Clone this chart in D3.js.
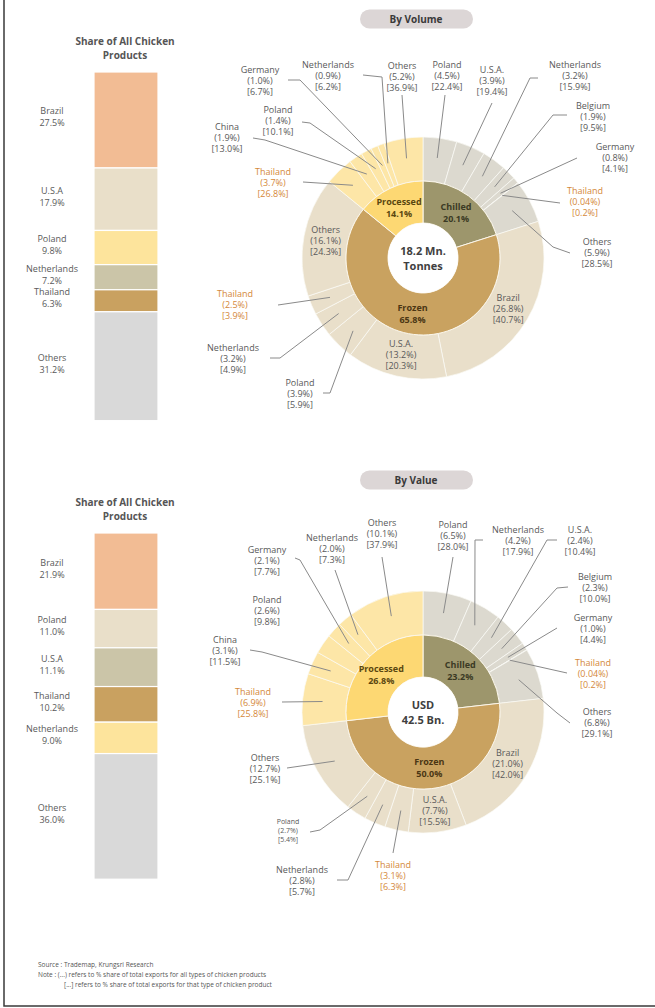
<!DOCTYPE html>
<html><head><meta charset="utf-8">
<script src="https://cdn.jsdelivr.net/npm/d3@7"></script>
<style>body{margin:0;background:#fff}svg{display:block;font-family:'Open Sans',sans-serif}</style>
</head><body><svg id="c" width="655" height="1008"></svg>
<script>
// ---------- DATA ----------
const barCategoriesVolume = ["Brazil","U.S.A","Poland","Netherlands","Thailand","Others"];
const barSharesVolume = [27.5,17.9,9.8,7.2,6.3,31.2];
const barCategoriesValue = ["Brazil","Poland","U.S.A","Thailand","Netherlands","Others"];
const barSharesValue = [21.9,11.0,11.1,10.2,9.0,36.0];

const productTypes = ["Chilled","Frozen","Processed"];
const volumeTypeShares = [20.1,65.8,14.1];
const valueTypeShares = [23.2,50.0,26.8];

const volChilledCountries = ["Poland","U.S.A.","Netherlands","Belgium","Germany","Thailand","Others"];
const volChilledTotal = [4.5,3.9,3.2,1.9,0.8,0.04,5.9];
const volChilledType = [22.4,19.4,15.9,9.5,4.1,0.2,28.5];
const volFrozenCountries = ["Brazil","U.S.A.","Poland","Netherlands","Thailand","Others"];
const volFrozenTotal = [26.8,13.2,3.9,3.2,2.5,16.1];
const volFrozenType = [40.7,20.3,5.9,4.9,3.9,24.3];
const volProcessedCountries = ["Thailand","China","Poland","Germany","Netherlands","Others"];
const volProcessedTotal = [3.7,1.9,1.4,1.0,0.9,5.2];
const volProcessedType = [26.8,13.0,10.1,6.7,6.2,36.9];

const valChilledCountries = ["Poland","Netherlands","U.S.A.","Belgium","Germany","Thailand","Others"];
const valChilledTotal = [6.5,4.2,2.4,2.3,1.0,0.04,6.8];
const valChilledType = [28.0,17.9,10.4,10.0,4.4,0.2,29.1];
const valFrozenCountries = ["Brazil","U.S.A.","Thailand","Netherlands","Poland","Others"];
const valFrozenTotal = [21.0,7.7,3.1,2.8,2.7,12.7];
const valFrozenType = [42.0,15.5,6.3,5.7,5.4,25.1];
const valProcessedCountries = ["Thailand","China","Poland","Germany","Netherlands","Others"];
const valProcessedTotal = [6.9,3.1,2.6,2.1,2.0,10.1];
const valProcessedType = [25.8,11.5,9.8,7.7,7.3,37.9];

// ---------- LAYOUT (annotation placement only) ----------
const volumeLabelLayout = {
  "Processed|Thailand":[273,182,[[303,182]]],
  "Processed|China":[227,137,[[253,138],[265,140]]],
  "Processed|Poland":[278,120,[[302,122],[310,123]]],
  "Processed|Germany":[260,80,[[288,80],[300,80]]],
  "Processed|Netherlands":[328,75,[[363,75],[382,77]]],
  "Processed|Others":[402,76,[[402,95]]],
  "Chilled|Poland":[447,75,[[445,95]]],
  "Chilled|U.S.A.":[492,80,[[492,103]]],
  "Chilled|Netherlands":[575,75,[[538,78],[530,78]]],
  "Chilled|Belgium":[593,116,[[567,115],[553,115]]],
  "Chilled|Germany":[615,157,[[577,158]]],
  "Chilled|Thailand":[585,201,[[560,203]]],
  "Chilled|Others":[597,252,[[570,253],[553,247]]],
  "Frozen|Brazil":"in","Frozen|U.S.A.":"in","Frozen|Others":"in",
  "Frozen|Thailand":[235,304,[[278,305]]],
  "Frozen|Netherlands":[233,358,[[270,358],[280,358]]],
  "Frozen|Poland":[300,393,[[323,393],[330,393]]]
};
const valueLabelLayout = {
  "Processed|Others":[382,533,[[382,557]]],
  "Processed|Netherlands":[332,548,[[335,570]]],
  "Processed|Germany":[267,560,[[295,558],[300,560]]],
  "Processed|Poland":[267,610,null],
  "Processed|China":[225,650,[[250,650],[262,652]]],
  "Processed|Thailand":[253,702,[[282,702]]],
  "Chilled|Poland":[453,535,[[453,557]]],
  "Chilled|Netherlands":[518,540,[[483,540],[475,540]]],
  "Chilled|U.S.A.":[580,540,[[557,540],[547,540]]],
  "Chilled|Belgium":[595,587,[[568,587],[557,588]]],
  "Chilled|Germany":[593,628,[[557,628]]],
  "Chilled|Thailand":[593,673,[[567,673]]],
  "Chilled|Others":[597,722,[[570,723],[557,713]]],
  "Frozen|Brazil":"in","Frozen|U.S.A.":"in",
  "Frozen|Others":[265,768,[[287,768]]],
  "Frozen|Poland":[288,830,[[310,832],[320,830]],7],
  "Frozen|Netherlands":[302,880,[[337,880],[348,880]]],
  "Frozen|Thailand":[393,875,[[393,853]]]
};

// ---------- DRAW ----------
const svg = d3.select("#c");
const GRAY = "#595959", ORANGE = "#d4883a";

svg.append("path").attr("d","M4,0V1006H655").attr("fill","none")
  .attr("stroke","#3a3a3a").attr("stroke-width",1.5);

function drawBar(top, cats, shares, colors){
  const g = svg.append("g");
  ["Share of All Chicken","Products"].forEach((t,i)=>{
    g.append("text").attr("x",125).attr("y",top-31+i*14).attr("text-anchor","middle")
      .attr("dominant-baseline","central").attr("font-size",10).attr("font-weight","bold")
      .attr("fill","#555").text(t);
  });
  const y = d3.scaleLinear().domain([0,100]).range([0,349]);
  let cum = 0;
  cats.forEach((c,i)=>{
    const y0 = top + y(cum), h = y(shares[i]);
    cum += shares[i];
    g.append("rect").attr("x",94).attr("y",y0).attr("width",64).attr("height",h)
      .attr("fill",colors[i]).attr("stroke","#fff").attr("stroke-width",1.2);
    const mid = y0 + h/2 - 3;
    g.append("text").attr("x",52).attr("y",mid-6).attr("text-anchor","middle")
      .attr("dominant-baseline","central").attr("font-size",9).attr("fill",GRAY).text(c);
    g.append("text").attr("x",52).attr("y",mid+6).attr("text-anchor","middle")
      .attr("dominant-baseline","central").attr("font-size",9).attr("fill",GRAY).text(shares[i].toFixed(1)+"%");
  });
}

drawBar(72, barCategoriesVolume, barSharesVolume,
  ["#f2bc94","#e9dfc9","#fde49c","#cbc5a8","#c9a160","#d9d9d9"]);
drawBar(533, barCategoriesValue, barSharesValue,
  ["#f2bc94","#e9dfc9","#cbc5a8","#c9a160","#fde49c","#d9d9d9"]);

function fmt(v){ return (v < 0.1 ? v.toFixed(2) : v.toFixed(1)) + "%"; }

function drawDonut(cx, cy, pillY, header, centerLines, typeShares, breakdowns, layout){
  const g = svg.append("g");
  // header pill
  g.append("rect").attr("x",cx-63).attr("y",pillY-9.5).attr("width",113).attr("height",19)
    .attr("rx",9.5).attr("fill","#dcd6d6");
  g.append("text").attr("x",cx-7).attr("y",pillY).attr("text-anchor","middle")
    .attr("dominant-baseline","central").attr("font-size",10).attr("font-weight","bold")
    .attr("fill","#3a3a3a").text(header);

  const r0 = 35, r1 = 77, r2 = 121;
  const midArc = d3.arc().innerRadius(r0).outerRadius(r1);
  const outArc = d3.arc().innerRadius(r1).outerRadius(r2);
  const midColors = ["#9d966c","#c9a260","#fdd873"];
  const outColors = ["#dcd9cf","#e9dfca","#fde6a7"];
  const midText = ["#3b3a24","#4b3614","#5a4710"];
  const gc = g.append("g").attr("transform",`translate(${cx},${cy})`);

  const mids = d3.pie().sort(null).value(d=>d)(typeShares);
  const outers = [];
  mids.forEach((m,i)=>{
    const b = breakdowns[i];
    const sub = d3.pie().sort(null).value(d=>d.t).startAngle(m.startAngle).endAngle(m.endAngle)(
      b.countries.map((c,j)=>({type:productTypes[i], c, tot:b.total[j], t:b.type[j], ti:i})));
    sub.forEach(s=>outers.push(s));
  });
  gc.selectAll("path.o").data(outers).join("path").attr("class","o").attr("d",outArc)
    .attr("fill",d=>outColors[d.data.ti]).attr("stroke","#fbfaf6").attr("stroke-width",0.7);
  gc.selectAll("path.m").data(mids).join("path").attr("class","m").attr("d",midArc)
    .attr("fill",(d,i)=>midColors[i]).attr("stroke","#fbf6ea").attr("stroke-width",1);
  gc.append("circle").attr("r",r0).attr("fill","#fff");

  mids.forEach((m,i)=>{
    const [x,y] = midArc.centroid(m);
    [productTypes[i], fmt(typeShares[i])].forEach((t,k)=>{
      gc.append("text").attr("x",x).attr("y",y-6+k*12).attr("text-anchor","middle")
        .attr("dominant-baseline","central").attr("font-size",9).attr("font-weight","bold")
        .attr("fill",midText[i]).text(t);
    });
  });
  centerLines.forEach((t,k)=>{
    gc.append("text").attr("x",0).attr("y",-7.5+k*15).attr("text-anchor","middle")
      .attr("dominant-baseline","central").attr("font-size",11).attr("font-weight","bold")
      .attr("fill","#404040").text(t);
  });

  outers.forEach(s=>{
    const key = s.data.type + "|" + s.data.c;
    const L = layout[key];
    if(!L) return;
    const lines = [s.data.c, "(" + fmt(s.data.tot) + ")", "[" + fmt(s.data.t) + "]"];
    const col = s.data.c === "Thailand" ? ORANGE : GRAY;
    let tx, ty, fs = 9, lh = 11;
    if(L === "in"){
      const c = outArc.centroid(s);
      tx = cx + c[0]; ty = cy + c[1];
    } else {
      tx = L[0]; ty = L[1];
      if(L[3]){ fs = L[3]; lh = 9; }
      if(L[2]){
        const a = (s.startAngle + s.endAngle)/2, rr = 101;
        const pts = L[2].concat([[cx + rr*Math.sin(a), cy - rr*Math.cos(a)]]);
        g.append("path").attr("d", d3.line()(pts)).attr("fill","none")
          .attr("stroke","#8a8a8a").attr("stroke-width",1);
      }
    }
    lines.forEach((t,k)=>{
      g.append("text").attr("x",tx).attr("y",ty+(k-1)*lh).attr("text-anchor","middle")
        .attr("dominant-baseline","central").attr("font-size",fs).attr("fill",col).text(t);
    });
  });
}

drawDonut(423, 258, 19, "By Volume", ["18.2 Mn.","Tonnes"], volumeTypeShares, [
  {countries:volChilledCountries,total:volChilledTotal,type:volChilledType},
  {countries:volFrozenCountries,total:volFrozenTotal,type:volFrozenType},
  {countries:volProcessedCountries,total:volProcessedTotal,type:volProcessedType}
], volumeLabelLayout);

drawDonut(423, 712, 480, "By Value", ["USD","42.5 Bn."], valueTypeShares, [
  {countries:valChilledCountries,total:valChilledTotal,type:valChilledType},
  {countries:valFrozenCountries,total:valFrozenTotal,type:valFrozenType},
  {countries:valProcessedCountries,total:valProcessedTotal,type:valProcessedType}
], valueLabelLayout);

// source notes
const notes = [
  [38,964,"Source : Trademap, Krungsri Research"],
  [38,974,"Note : (...) refers to % share of total exports for all types of chicken products"],
  [64,984,"[...] refers to % share of total exports for that type of chicken product"]
];
notes.forEach(n=>svg.append("text").attr("x",n[0]).attr("y",n[1]).attr("dominant-baseline","central")
  .attr("font-size",6.5).attr("fill","#555").text(n[2]));
</script></body></html>
